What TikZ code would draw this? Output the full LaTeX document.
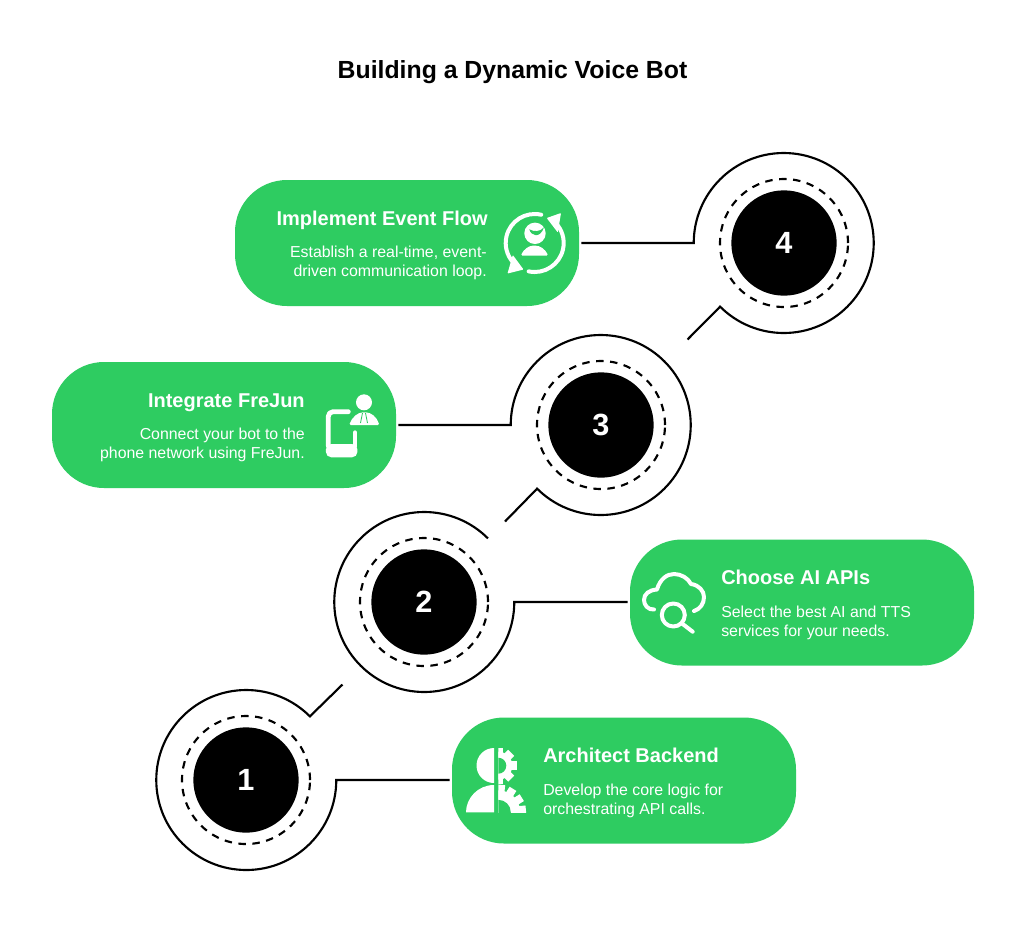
\documentclass[tikz,border=0pt]{standalone}
\usepackage{fontspec}
\setmainfont{Liberation Sans}
\definecolor{pillgreen}{HTML}{2ECC61}
\tikzset{
  pill/.style={rectangle,fill=pillgreen,rounded corners=39pt,minimum width=258pt,minimum height=94.5pt,inner sep=0pt},
  outerring/.style={circle,minimum size=135pt,inner sep=0pt},
  dashring/.style={circle,draw=black,line width=1.6pt,dash pattern=on 5.6pt off 4.9pt,minimum size=96pt,inner sep=0pt},
  disc/.style={circle,fill=black,text=white,minimum size=79pt,inner sep=0pt,font=\fontsize{23}{23}\selectfont\bfseries},
  link/.style={draw=black,line width=1.6pt,line join=miter},
  head/.style={text=white,inner sep=0pt,font=\fontsize{15}{18}\selectfont\bfseries},
  body/.style={text=white,inner sep=0pt,font=\fontsize{11.9}{14.5}\selectfont},
  iconline/.style={draw=white,line width=3pt,line cap=round,line join=round},
  iconfill/.style={fill=white},
}
\begin{document}
\begin{tikzpicture}[x=0.75pt,y=0.75pt]
\useasboundingbox (0,0) rectangle (1024,-947);
\fill[white] (0,0) rectangle (1024,-947);

\node[text=black,inner sep=0pt,anchor=base,font=\fontsize{18.6}{22}\selectfont\bfseries] (title) at (512.5,-78.5) {Building a Dynamic Voice Bot};

% pills
\node[pill] (p4) at (407,-243) {};
\node[pill] (p3) at (224,-425) {};
\node[pill] (p2) at (802,-602.5) {};
\node[pill] (p1) at (624,-780.5) {};

% rings
\node[outerring] (c1) at (246,-780) {};
\node[outerring] (c2) at (424,-602) {};
\node[outerring] (c3) at (601,-425) {};
\node[outerring] (c4) at (784,-243) {};
\node[dashring] (d1) at (c1.center) {};
\node[dashring] (d2) at (c2.center) {};
\node[dashring] (d3) at (c3.center) {};
\node[dashring] (d4) at (c4.center) {};
\node[disc] (n1) at (c1.center) {1};
\node[disc] (n2) at (c2.center) {2};
\node[disc] (n3) at (c3.center) {3};
\node[disc] (n4) at (c4.center) {4};

% free ends of the tails
\coordinate (t1) at (342.5,-684.5);
\coordinate (t3) at (505,-521.5);
\coordinate (t4) at (687.5,-339.5);

% connectors
\draw[link,shorten <=1.5pt] (c1.east -| p1.west) -- (c1.east) arc[start angle=0,end angle=-315,radius=90] -- (t1);
\draw[link,shorten <=1.5pt] (c2.east -| p2.west) -- (c2.east) arc[start angle=0,end angle=-315,radius=90];
\draw[link,shorten <=1.5pt] (p3.east) -- (c3.west) arc[start angle=180,end angle=-135,radius=90] -- (t3);
\draw[link,shorten <=1.5pt] (p4.east) -- (c4.west) arc[start angle=180,end angle=-135,radius=90] -- (t4);

% texts
\node[head,anchor=base east] (h4) at (488,-225) {Implement Event Flow};
\node[body,anchor=east,align=right] (b4) at (487,-263) {Establish a real-time, event-\\driven communication loop.};
\node[head,anchor=base east] (h3) at (305,-407) {Integrate FreJun};
\node[body,anchor=east,align=right] (b3) at (305,-445) {Connect your bot to the\\phone network using FreJun.};
\node[head,anchor=base west] (h2) at (721,-584) {Choose AI APIs};
\node[body,anchor=west,align=left] (b2) at (721,-623) {Select the best AI and TTS\\services for your needs.};
\node[head,anchor=base west] (h1) at (543,-762) {Architect Backend};
\node[body,anchor=west,align=left] (b1) at (543,-801) {Develop the core logic for\\orchestrating API calls.};

% icon 4: person in a cycle
\draw[iconline] (534.7,-243) ++(77:29) arc[start angle=77,end angle=222,radius=29];
\draw[iconline] (534.7,-243) ++(258:29) arc[start angle=258,end angle=405,radius=29];
\fill[white,rounded corners=0.6pt] (507.5,-273.5) -- (523.5,-269.5) -- (512.8,-255) -- cycle;
\fill[white,rounded corners=0.6pt] (561,-213) -- (546.7,-218) -- (557.8,-232.5) -- cycle;
\fill[white] (535,-233.3) circle[radius=10.7];
\fill[pillgreen] (529.3,-229.3) .. controls (531,-236) and (540,-239) .. (544,-227.3) .. controls (540,-232) and (534,-232) .. (529.3,-229.3) -- cycle;
\fill[white,rounded corners=1.2pt] (520.7,-255.7) .. controls (524,-249) and (529,-245.7) .. (534.3,-245.7) .. controls (540,-245.7) and (545,-249) .. (548.3,-255.7) -- cycle;

% icon 3: phone and person
\draw[iconline,line width=3.6pt] (348.3,-411.7) -- (333,-411.7) arc[start angle=90,end angle=180,radius=4.7] -- (328.3,-446);
\draw[iconline,line width=3.6pt] (355,-432.7) -- (355,-446);
\fill[white,rounded corners=4pt] (325.9,-444) rectangle (357.4,-457.3);
\fill[white] (364,-402.3) circle[radius=8];
\fill[white,rounded corners=1pt] (349.3,-425) .. controls (352,-417) and (358,-412.3) .. (364.3,-412.3) .. controls (371,-412.3) and (377,-417) .. (379.3,-425) -- cycle;
\draw[pillgreen,line width=0.6pt] (362.5,-413) -- (360.5,-423);
\draw[pillgreen,line width=0.6pt] (365.5,-413) -- (367.5,-423);

% icon 2: cloud and lens
\draw[iconline] (654,-609.5) .. controls (648,-610) and (644,-605) .. (644,-600)
  .. controls (644,-594) and (649,-590) .. (657,-589.5)
  .. controls (660,-579) and (667,-574) .. (674,-574)
  .. controls (681,-574) and (688,-578) .. (691,-584)
  .. controls (699,-585) and (704,-591) .. (704,-597)
  .. controls (704,-604) and (700,-609) .. (694,-611);
\draw[iconline] (673.3,-615) circle[radius=11.5];
\draw[iconline] (682,-623.5) -- (692.7,-631.7);

% icon 1: head and gears
\fill[white] (494,-748) arc[start angle=90,end angle=270,radius=17.5] -- cycle;
\fill[white] (494,-785) .. controls (478,-785) and (466,-798) .. (466,-812.3) -- (494,-812.3) -- cycle;
\begin{scope}
  \clip (498.3,-745) rectangle (520,-787);
  \fill[white] (498.3,-765.7) circle[radius=14];
  \foreach \a in {90,45,0,-45,-90}
    \fill[white,rotate around={\a:(498.3,-765.7)}] (498.3,-770) rectangle (516.5,-761.4);
  \fill[pillgreen] (498.3,-765.7) circle[radius=8];
\end{scope}
\begin{scope}
  \clip (498.3,-783) rectangle (528,-812.3);
  \fill[white] (498.3,-812.3) circle[radius=22];
  \foreach \a in {84,58,32,6}
    \fill[white,rotate around={\a:(498.3,-812.3)}] (498.3,-816.3) rectangle (526,-808.3);
  \fill[pillgreen] (498.3,-812.3) circle[radius=12.5];
\end{scope}
\end{tikzpicture}
\end{document}
